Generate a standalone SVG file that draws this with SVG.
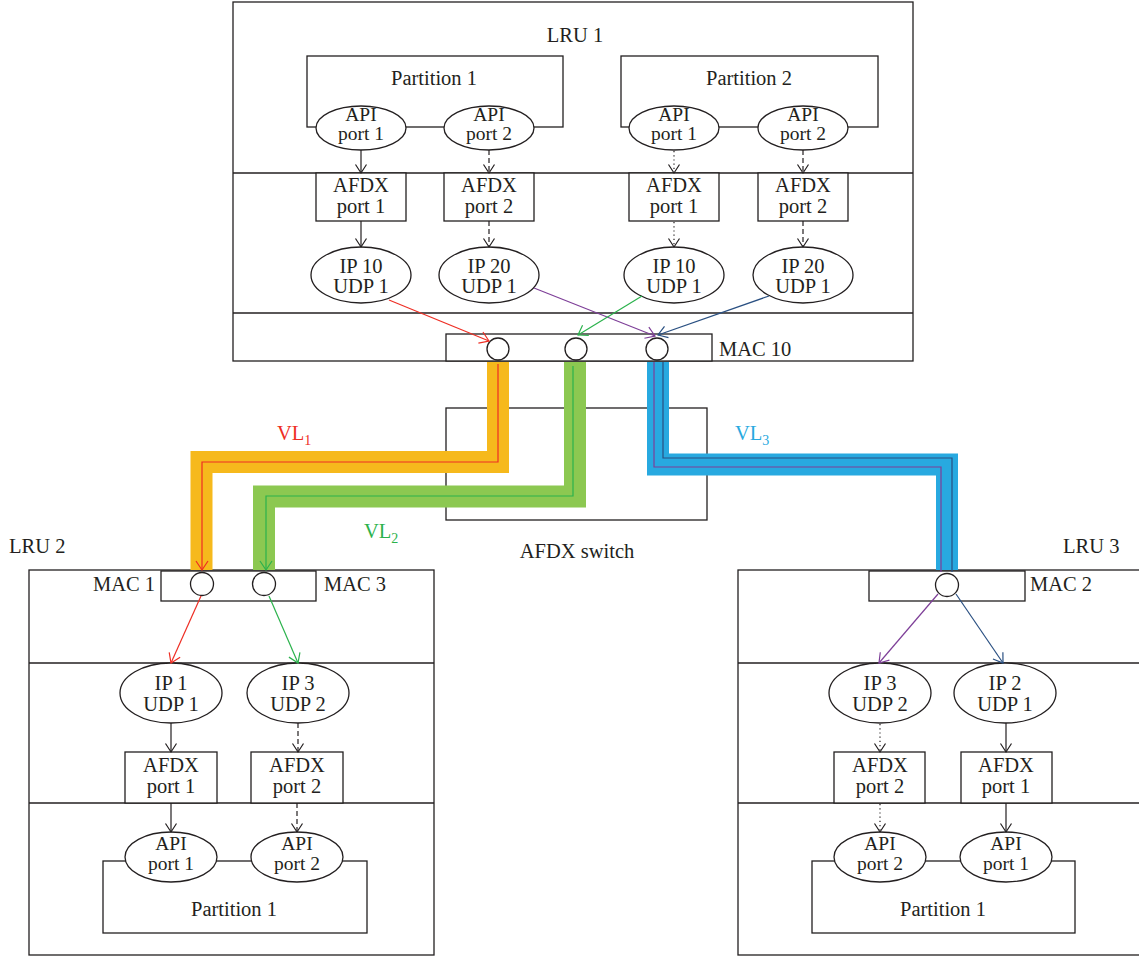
<svg xmlns="http://www.w3.org/2000/svg" width="1139" height="958" viewBox="0 0 1139 958">
<defs>
<style>
.b{fill:none;stroke:#231f20;stroke-width:1.3}
.w{fill:#fff;stroke:#231f20;stroke-width:1.3}
.t{font-family:"Liberation Serif","Times New Roman",serif;font-size:20.5px;fill:#231f20;text-anchor:middle}
.a{font-size:19.5px}
.s{text-anchor:start}
.e{text-anchor:end}
.c{fill:none;stroke:#231f20;stroke-width:1.2}
.dash{stroke-dasharray:5 3}
.dot{stroke-dasharray:1.2 3}
.band{fill:none;stroke-width:22;stroke-linejoin:miter}
</style>
<marker id="ak" viewBox="-10 -7 12 14" refX="0" refY="0" markerWidth="12" markerHeight="14" markerUnits="userSpaceOnUse" orient="auto"><path d="M-8.5,-5.5 L0,0 L-8.5,5.5" fill="none" stroke="#231f20" stroke-width="1.2"/></marker>
<marker id="ar" viewBox="-10 -7 12 14" refX="0" refY="0" markerWidth="12" markerHeight="14" markerUnits="userSpaceOnUse" orient="auto"><path d="M-9,-6 L0,0 L-9,6" fill="none" stroke="#ee2e24" stroke-width="1.2"/></marker>
<marker id="ag" viewBox="-10 -7 12 14" refX="0" refY="0" markerWidth="12" markerHeight="14" markerUnits="userSpaceOnUse" orient="auto"><path d="M-9,-6 L0,0 L-9,6" fill="none" stroke="#2bb24c" stroke-width="1.2"/></marker>
<marker id="ap" viewBox="-10 -7 12 14" refX="0" refY="0" markerWidth="12" markerHeight="14" markerUnits="userSpaceOnUse" orient="auto"><path d="M-9,-6 L0,0 L-9,6" fill="none" stroke="#7e3f98" stroke-width="1.2"/></marker>
<marker id="an" viewBox="-10 -7 12 14" refX="0" refY="0" markerWidth="12" markerHeight="14" markerUnits="userSpaceOnUse" orient="auto"><path d="M-9,-6 L0,0 L-9,6" fill="none" stroke="#2a5082" stroke-width="1.2"/></marker>
</defs>
<rect width="1139" height="958" fill="#fff"/>

<!-- LRU 1 -->
<g id="lru1">
<rect class="b" x="233" y="2" width="680" height="359"/>
<line class="b" x1="233" y1="173" x2="913" y2="173"/>
<line class="b" x1="233" y1="313" x2="913" y2="313"/>
<text class="t" x="575" y="42">LRU 1</text>
</g>
<g id="lru1-partition1">
<rect class="b" x="307" y="56" width="256" height="71"/>
<text class="t" x="434" y="85">Partition 1</text>
</g>
<g id="lru1-partition2">
<rect class="b" x="621" y="56" width="257" height="71"/>
<text class="t" x="749" y="85">Partition 2</text>
</g>
<g id="lru1-p1-api1"><ellipse class="w" cx="361" cy="128" rx="45" ry="22"/><text class="t a" x="361" y="121">API</text><text class="t a" x="361" y="140">port 1</text></g>
<g id="lru1-p1-api2"><ellipse class="w" cx="489" cy="128" rx="45" ry="22"/><text class="t a" x="489" y="121">API</text><text class="t a" x="489" y="140">port 2</text></g>
<g id="lru1-p2-api1"><ellipse class="w" cx="674" cy="128" rx="45" ry="22"/><text class="t a" x="674" y="121">API</text><text class="t a" x="674" y="140">port 1</text></g>
<g id="lru1-p2-api2"><ellipse class="w" cx="803" cy="128" rx="45" ry="22"/><text class="t a" x="803" y="121">API</text><text class="t a" x="803" y="140">port 2</text></g>
<g id="lru1-p1-afdx1"><rect class="w" x="316" y="173" width="90" height="48"/><text class="t" x="361" y="192">AFDX</text><text class="t" x="361" y="213">port 1</text></g>
<g id="lru1-p1-afdx2"><rect class="w" x="444" y="173" width="90" height="48"/><text class="t" x="489" y="192">AFDX</text><text class="t" x="489" y="213">port 2</text></g>
<g id="lru1-p2-afdx1"><rect class="w" x="629" y="173" width="90" height="48"/><text class="t" x="674" y="192">AFDX</text><text class="t" x="674" y="213">port 1</text></g>
<g id="lru1-p2-afdx2"><rect class="w" x="758" y="173" width="90" height="48"/><text class="t" x="803" y="192">AFDX</text><text class="t" x="803" y="213">port 2</text></g>
<g id="lru1-ip10a"><ellipse class="w" cx="361" cy="275" rx="50" ry="28"/><text class="t" x="361" y="273">IP 10</text><text class="t" x="361" y="293">UDP 1</text></g>
<g id="lru1-ip20a"><ellipse class="w" cx="489" cy="275" rx="50" ry="28"/><text class="t" x="489" y="273">IP 20</text><text class="t" x="489" y="293">UDP 1</text></g>
<g id="lru1-ip10b"><ellipse class="w" cx="674" cy="275" rx="50" ry="28"/><text class="t" x="674" y="273">IP 10</text><text class="t" x="674" y="293">UDP 1</text></g>
<g id="lru1-ip20b"><ellipse class="w" cx="803" cy="275" rx="50" ry="28"/><text class="t" x="803" y="273">IP 20</text><text class="t" x="803" y="293">UDP 1</text></g>
<g id="mac10">
<rect class="w" x="446" y="334" width="266" height="27"/>
<circle class="w" cx="498" cy="349" r="11"/>
<circle class="w" cx="576" cy="349" r="11"/>
<circle class="w" cx="657" cy="349" r="11"/>
<text class="t s" x="719" y="356">MAC 10</text>
</g>

<!-- AFDX switch -->
<g id="afdx-switch">
<rect class="b" x="446" y="408" width="261" height="112"/>
<text class="t" x="577" y="558">AFDX switch</text>
</g>

<!-- LRU 2 -->
<g id="lru2">
<rect class="b" x="29" y="570" width="405" height="385"/>
<line class="b" x1="29" y1="663" x2="434" y2="663"/>
<line class="b" x1="29" y1="803" x2="434" y2="803"/>
<text class="t s" x="9" y="553">LRU 2</text>
</g>
<g id="lru2-mac">
<rect class="w" x="161" y="571" width="155" height="30"/>
<circle class="w" cx="202" cy="584" r="11.5"/>
<circle class="w" cx="264" cy="584" r="11.5"/>
<text class="t e" x="155" y="591">MAC 1</text>
<text class="t s" x="324" y="591">MAC 3</text>
</g>
<g id="lru2-ip1"><ellipse class="w" cx="171" cy="693" rx="51" ry="30"/><text class="t" x="171" y="690">IP 1</text><text class="t" x="171" y="711">UDP 1</text></g>
<g id="lru2-ip3"><ellipse class="w" cx="298" cy="693" rx="51" ry="30"/><text class="t" x="298" y="690">IP 3</text><text class="t" x="298" y="711">UDP 2</text></g>
<g id="lru2-afdx1"><rect class="w" x="125" y="752" width="92" height="51"/><text class="t" x="171" y="772">AFDX</text><text class="t" x="171" y="793">port 1</text></g>
<g id="lru2-afdx2"><rect class="w" x="251" y="752" width="92" height="51"/><text class="t" x="297" y="772">AFDX</text><text class="t" x="297" y="793">port 2</text></g>
<g id="lru2-partition1">
<rect class="b" x="103" y="861" width="264" height="72"/>
<text class="t" x="234" y="916">Partition 1</text>
</g>
<g id="lru2-api1"><ellipse class="w" cx="171" cy="857" rx="46" ry="25"/><text class="t a" x="171" y="850">API</text><text class="t a" x="171" y="870">port 1</text></g>
<g id="lru2-api2"><ellipse class="w" cx="297" cy="857" rx="46" ry="25"/><text class="t a" x="297" y="850">API</text><text class="t a" x="297" y="870">port 2</text></g>

<!-- LRU 3 -->
<g id="lru3">
<rect class="b" x="738" y="570" width="420" height="385"/>
<line class="b" x1="738" y1="663" x2="1139" y2="663"/>
<line class="b" x1="738" y1="803" x2="1139" y2="803"/>
<text class="t s" x="1063" y="553">LRU 3</text>
</g>
<g id="lru3-mac">
<rect class="w" x="869" y="571" width="156" height="30"/>
<circle class="w" cx="947" cy="585" r="11.5"/>
<text class="t s" x="1030" y="591">MAC 2</text>
</g>
<g id="lru3-ip3"><ellipse class="w" cx="880" cy="693" rx="51" ry="30"/><text class="t" x="880" y="690">IP 3</text><text class="t" x="880" y="711">UDP 2</text></g>
<g id="lru3-ip2"><ellipse class="w" cx="1005" cy="693" rx="51" ry="30"/><text class="t" x="1005" y="690">IP 2</text><text class="t" x="1005" y="711">UDP 1</text></g>
<g id="lru3-afdx2"><rect class="w" x="834" y="752" width="91" height="51"/><text class="t" x="880" y="772">AFDX</text><text class="t" x="880" y="793">port 2</text></g>
<g id="lru3-afdx1"><rect class="w" x="961" y="752" width="91" height="51"/><text class="t" x="1006" y="772">AFDX</text><text class="t" x="1006" y="793">port 1</text></g>
<g id="lru3-partition1">
<rect class="b" x="812" y="861" width="263" height="72"/>
<text class="t" x="943" y="916">Partition 1</text>
</g>
<g id="lru3-api2"><ellipse class="w" cx="880" cy="857" rx="46" ry="25"/><text class="t a" x="880" y="850">API</text><text class="t a" x="880" y="870">port 2</text></g>
<g id="lru3-api1"><ellipse class="w" cx="1006" cy="857" rx="46" ry="25"/><text class="t a" x="1006" y="850">API</text><text class="t a" x="1006" y="870">port 1</text></g>

<!-- Connectors -->
<g id="connectors">
<path class="band" stroke="#f6b91c" d="M498,362 V462 H201.5 V570"/>
<path class="band" stroke="#8cc851" d="M575,362 V496.5 H264 V570"/>
<path class="band" stroke="#28a9e0" d="M658,362 V464.5 H947 V570"/>
<path fill="none" stroke="#ee2e24" stroke-width="1.2" d="M498,364 V462 H202 V570" marker-end="url(#ar)"/>
<path fill="none" stroke="#2bb24c" stroke-width="1.2" d="M573,366 V496 H266 V570" marker-end="url(#ag)"/>
<path fill="none" stroke="#7e3f98" stroke-width="1.2" d="M654,362 V467 H941 V572"/>
<path fill="none" stroke="#2a5082" stroke-width="1.2" d="M663,362 V458 H952 V572"/>
<line class="c" x1="361" y1="150" x2="361" y2="173" marker-end="url(#ak)"/>
<line class="c dash" x1="489" y1="150" x2="489" y2="173" marker-end="url(#ak)"/>
<line class="c dot" x1="674" y1="151" x2="674" y2="173" marker-end="url(#ak)"/>
<line class="c dash" x1="803" y1="150" x2="803" y2="173" marker-end="url(#ak)"/>
<line class="c" x1="361" y1="221" x2="361" y2="247" marker-end="url(#ak)"/>
<line class="c dash" x1="489" y1="221" x2="489" y2="247" marker-end="url(#ak)"/>
<line class="c dot" x1="674" y1="222" x2="674" y2="247" marker-end="url(#ak)"/>
<line class="c dash" x1="803" y1="221" x2="803" y2="247" marker-end="url(#ak)"/>
<line x1="389" y1="300" x2="489" y2="341" stroke="#ee2e24" stroke-width="1.2" marker-end="url(#ar)"/>
<line x1="534" y1="288" x2="655" y2="336" stroke="#7e3f98" stroke-width="1.2" marker-end="url(#ap)"/>
<line x1="642" y1="296" x2="578" y2="335" stroke="#2bb24c" stroke-width="1.2" marker-end="url(#ag)"/>
<line x1="769" y1="296" x2="658" y2="335" stroke="#2a5082" stroke-width="1.2" marker-end="url(#an)"/>
<line x1="201" y1="596" x2="171" y2="663" stroke="#ee2e24" stroke-width="1.2" marker-end="url(#ar)"/>
<line x1="269" y1="596" x2="298" y2="663" stroke="#2bb24c" stroke-width="1.2" marker-end="url(#ag)"/>
<line class="c" x1="171" y1="723" x2="171" y2="752" marker-end="url(#ak)"/>
<line class="c dash" x1="298" y1="723" x2="298" y2="752" marker-end="url(#ak)"/>
<line class="c" x1="171" y1="803" x2="171" y2="832" marker-end="url(#ak)"/>
<line class="c dash" x1="297" y1="803" x2="297" y2="832" marker-end="url(#ak)"/>
<line x1="938" y1="594" x2="879" y2="663" stroke="#7e3f98" stroke-width="1.2" marker-end="url(#ap)"/>
<line x1="956" y1="594" x2="1003" y2="663" stroke="#2a5082" stroke-width="1.2" marker-end="url(#an)"/>
<line class="c dot" x1="880" y1="724" x2="880" y2="752" marker-end="url(#ak)"/>
<line class="c" x1="1006" y1="723" x2="1006" y2="752" marker-end="url(#ak)"/>
<line class="c dot" x1="880" y1="804" x2="880" y2="832" marker-end="url(#ak)"/>
<line class="c" x1="1006" y1="803" x2="1006" y2="832" marker-end="url(#ak)"/>
</g>

<!-- VL labels -->
<text class="t s" x="277" y="440" style="fill:#ee2e24">VL<tspan font-size="14" dy="5">1</tspan></text>
<text class="t s" x="364" y="538" style="fill:#2bb24c">VL<tspan font-size="14" dy="5">2</tspan></text>
<text class="t s" x="735" y="440" style="fill:#28a9e0">VL<tspan font-size="14" dy="5">3</tspan></text>
</svg>
